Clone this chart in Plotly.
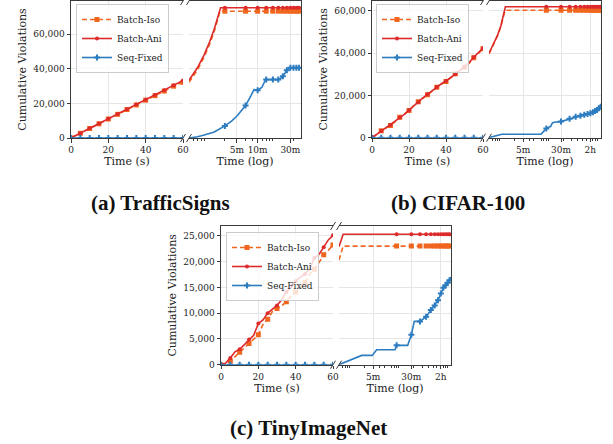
import math
import plotly.graph_objects as go

W, H = 613, 444

# ---------------- data ----------------
LIN_T = [0, 2.5, 5, 7.5, 10, 12.5, 15, 17.5, 20, 22.5, 25, 27.5, 30,
         32.5, 35, 37.5, 40, 42.5, 45, 47.5, 50, 52.5, 55, 57.5, 60]
LIN_SEQ = [0, 0, 0, 0, 0, 0, 0, 0, 0, 0, 0, 0, 0,
           0, 0, 0, 0, 0, 0, 0, 0, 0, 0, 0, 0]

# (a) TrafficSigns
A_LIN_ISO = [0, 1300, 2700, 4100, 5500, 6900, 8200, 9600, 11000, 12400, 13700, 15100, 16500,
             17800, 19100, 20500, 21900, 23200, 24500, 25900, 27200, 28600, 30000, 31300, 32200]
A_LIN_ANI = [0, 1400, 2800, 4200, 5600, 7000, 8400, 9700, 11100, 12500, 13900, 15300, 16700,
             18000, 19400, 20800, 22200, 23500, 24900, 26300, 27700, 29100, 30500, 31900, 33300]
A_MARK_T = [200, 400, 600, 800, 1000, 1200, 1400, 1600, 1800, 2000, 2200, 2400]
A_LOG_ISO_T = [60, 80, 100, 120, 140, 160, 170, 200, 400, 600, 800, 1000, 1200, 1400, 1600,
               1800, 2000, 2200, 2400, 2570]
A_LOG_ISO_V = [32200, 39600, 47000, 54400, 61800, 69200, 73400, 73400, 73400, 73400, 73400,
               73400, 73400, 73400, 73400, 73400, 73400, 73400, 73400, 73400]
A_LOG_ANI_T = [60, 80, 100, 120, 140, 160, 173, 200, 400, 600, 800, 1000, 1200, 1400, 1600,
               1800, 2000, 2200, 2400, 2570]
A_LOG_ANI_V = [33400, 40800, 48300, 55700, 63100, 70600, 75400, 75400, 75400, 75400, 75400,
               75400, 75400, 75400, 75400, 75400, 75400, 75400, 75400, 75400]
A_LOG_SEQ_T = [60, 80, 100, 140, 200, 250, 300, 350, 400, 480, 530, 600, 690, 780, 800, 1000,
               1200, 1300, 1400, 1500, 1600, 1700, 1800, 2000, 2200, 2400, 2570]
A_LOG_SEQ_V = [0, 700, 1700, 3500, 7000, 9800, 12700, 15700, 18800, 24500, 28000, 27700, 29200,
               33600, 33800, 33800, 33800, 34500, 35800, 37500, 39200, 40300, 40600, 40600,
               40600, 40600, 40600]
A_LOG_END = 2570
A_LOG_TICKS = [300, 600, 1800]
A_LOG_LABELS = ["5m", "10m", "30m"]
A_Y_TICKS = [0, 20000, 40000, 60000]
A_Y_MAX = 79300

# (b) CIFAR-100
B_LIN_ISO = [0, 1400, 3300, 4400, 5800, 7600, 9700, 11200, 12800, 15100, 17000, 18600, 20300,
             22100, 23800, 25200, 26600, 28300, 30200, 31600, 33300, 35200, 37800, 39800, 42000]
B_LIN_ANI = [0, 1500, 3200, 4500, 6000, 7800, 9500, 11000, 13000, 15000, 16800, 18800, 20500,
             22300, 24000, 25500, 26800, 28200, 30000, 31800, 33500, 35500, 38000, 40000, 42300]
B_MARK_T = [900, 1800, 2700, 3600, 4500, 5400, 6300, 7200, 8100, 9000, 9900, 10800, 11700]
B_LOG_ISO_T = [60, 75, 90, 105, 120, 128, 900, 1800, 2700, 3600, 4500, 5400, 6300, 7200, 8100,
               9000, 9900, 10800, 11700, 11900]
B_LOG_ISO_V = [39600, 44000, 48200, 52500, 58000, 60200, 60200, 60200, 60200, 60200, 60200,
               60200, 60200, 60200, 60200, 60200, 60200, 60200, 60200, 60200]
B_LOG_ANI_T = [60, 75, 90, 105, 120, 130, 900, 1800, 2700, 3600, 4500, 5400, 6300, 7200, 8100,
               9000, 9900, 10800, 11700, 11900]
B_LOG_ANI_V = [39900, 44300, 48500, 52800, 58500, 61900, 61900, 61900, 61900, 61900, 61900,
               61900, 61900, 61900, 61900, 61900, 61900, 61900, 61900, 61900]
B_LOG_SEQ_T = [60, 80, 110, 700, 760, 850, 900, 1000, 1100, 1200, 1300, 1800, 2700, 3600, 4500,
               5400, 6300, 7200, 8100, 9000, 9900, 10800, 11700, 11900]
B_LOG_SEQ_V = [0, 900, 1600, 1600, 2600, 3800, 4400, 5000, 5300, 7000, 7300, 7600, 9000, 9900,
               10400, 10900, 11200, 11500, 12000, 12600, 13100, 13900, 14600, 15000]
B_LOG_END = 11900
BC_LOG_TICKS = [300, 1800, 7200]
BC_LOG_LABELS = ["5m", "30m", "2h"]
B_Y_TICKS = [0, 20000, 40000, 60000]
B_Y_MAX = 64600

# (c) TinyImageNet
C_LIN_ISO = [0, 0, 700, 1550, 2400, 3300, 4100, 4900, 5800, 7800, 8800, 10300, 10900,
             11400, 12200, 13300, 14100, 15100, 15900, 17600, 18500, 19800, 21300, 22200, 23200]
C_LIN_ANI = [0, 300, 1300, 2500, 3000, 3900, 4900, 5700, 8000, 8700, 10000, 10700, 11500,
             12600, 14100, 15000, 16200, 17000, 17600, 18600, 20700, 21400, 22800, 24200, 25100]
C_MARK_T = [900, 1800, 2700, 3600, 4500, 5400, 6300, 7200, 8100, 9000, 9900, 10800]
C_LOG_ISO_T = [60, 73, 900, 1800, 2700, 3600, 4500, 5400, 6300, 7200, 8100, 9000, 9900, 10800,
               11600]
C_LOG_ISO_V = [20300, 23000, 23000, 23000, 23000, 23000, 23000, 23000, 23000, 23000, 23000,
               23000, 23000, 23000, 23000]
C_LOG_ANI_T = [60, 73, 900, 1800, 2700, 3600, 4500, 5400, 6300, 7200, 8100, 9000, 9900, 10800,
               11600]
C_LOG_ANI_V = [22900, 25300, 25300, 25300, 25300, 25300, 25300, 25300, 25300, 25300, 25300,
               25300, 25300, 25300, 25300]
C_LOG_SEQ_T = [60, 174, 287, 352, 833, 900, 1514, 1767, 1800, 2065, 2700, 3600, 4500, 5400,
               6300, 7200, 8100, 9000, 9900, 10800, 11600]
C_LOG_SEQ_V = [0, 1800, 1800, 2900, 2900, 3750, 3750, 5800, 5800, 8400, 8400, 9300, 10600,
               11500, 12500, 13800, 14900, 15400, 15900, 16400, 17000]
C_LOG_END = 11600
C_Y_TICKS = [0, 5000, 10000, 15000, 20000, 25000]
C_Y_MAX = 26900

LIN_TICKS = [0, 20, 40, 60]
LOG_MINOR = [70, 80, 90, 100, 200, 400, 500, 700, 800, 900, 1000, 2000, 3000, 4000, 5000,
             6000, 8000, 9000, 10000]
SERIES = ["Batch-Iso", "Batch-Ani", "Seq-Fixed"]
CAPTIONS = ["(a) TrafficSigns", "(b) CIFAR-100", "(c) TinyImageNet"]

# ---------------- styles / layout ----------------
COL = {"Batch-Iso": "#f0661f", "Batch-Ani": "#dd2a2a", "Seq-Fixed": "#2d7cc0"}
DASH = {"Batch-Iso": "5px,3px", "Batch-Ani": "solid", "Seq-Fixed": "solid"}
SYM = {"Batch-Iso": "square", "Batch-Ani": "circle", "Seq-Fixed": "cross"}
MSIZE = {"Batch-Iso": 5, "Batch-Ani": 4, "Seq-Fixed": 5}
SERIF = "DejaVu Serif"
AXC = "#3a3a3a"
GRID = "#e6e6e6"

# pixel boxes: lin x, log x, y(top,bottom), legend pos, caption centre
PANELS = [
    dict(lin=(71, 183), log=(189, 301), y=(1, 138), leg=(76, 4), cap=(160, 203)),
    dict(lin=(372, 483), log=(489, 601), y=(1, 137.7), leg=(376, 4), cap=(458, 203)),
    dict(lin=(221, 333), log=(339, 451), y=(226, 364.7), leg=(226, 232), cap=(308, 428)),
]
DATA = [
    dict(lin={"Batch-Iso": A_LIN_ISO, "Batch-Ani": A_LIN_ANI, "Seq-Fixed": LIN_SEQ},
         log={"Batch-Iso": (A_LOG_ISO_T, A_LOG_ISO_V), "Batch-Ani": (A_LOG_ANI_T, A_LOG_ANI_V),
              "Seq-Fixed": (A_LOG_SEQ_T, A_LOG_SEQ_V)},
         marks=A_MARK_T, end=A_LOG_END, lt=A_LOG_TICKS, ll=A_LOG_LABELS, yt=A_Y_TICKS, ymax=A_Y_MAX),
    dict(lin={"Batch-Iso": B_LIN_ISO, "Batch-Ani": B_LIN_ANI, "Seq-Fixed": LIN_SEQ},
         log={"Batch-Iso": (B_LOG_ISO_T, B_LOG_ISO_V), "Batch-Ani": (B_LOG_ANI_T, B_LOG_ANI_V),
              "Seq-Fixed": (B_LOG_SEQ_T, B_LOG_SEQ_V)},
         marks=B_MARK_T, end=B_LOG_END, lt=BC_LOG_TICKS, ll=BC_LOG_LABELS, yt=B_Y_TICKS, ymax=B_Y_MAX),
    dict(lin={"Batch-Iso": C_LIN_ISO, "Batch-Ani": C_LIN_ANI, "Seq-Fixed": LIN_SEQ},
         log={"Batch-Iso": (C_LOG_ISO_T, C_LOG_ISO_V), "Batch-Ani": (C_LOG_ANI_T, C_LOG_ANI_V),
              "Seq-Fixed": (C_LOG_SEQ_T, C_LOG_SEQ_V)},
         marks=C_MARK_T, end=C_LOG_END, lt=BC_LOG_TICKS, ll=BC_LOG_LABELS, yt=C_Y_TICKS, ymax=C_Y_MAX),
]


def fx(p):
    return p / W


def fy(p):
    return 1 - p / H


fig = go.Figure()
layout = dict(width=W, height=H, margin=dict(l=0, r=0, t=0, b=0, autoexpand=False),
              paper_bgcolor="white", plot_bgcolor="white", showlegend=True)
shapes, annotations = [], []
tickfont = dict(family=SERIF, size=9, color="#222")
titlefont = dict(family=SERIF, size=11, color="#222")

for i, (P, D) in enumerate(zip(PANELS, DATA)):
    n1, n2 = 2 * i + 1, 2 * i + 2
    xa1 = "xaxis" if n1 == 1 else f"xaxis{n1}"
    xa2, ya1, ya2 = f"xaxis{n2}", ("yaxis" if n1 == 1 else f"yaxis{n1}"), f"yaxis{n2}"
    xr1 = "x" if n1 == 1 else f"x{n1}"
    yr1 = "y" if n1 == 1 else f"y{n1}"
    xr2, yr2 = f"x{n2}", f"y{n2}"
    ydom = [fy(P["y"][1]), fy(P["y"][0])]
    legname = "legend" if i == 0 else f"legend{i + 1}"

    common_x = dict(showline=True, mirror=True, linecolor=AXC, linewidth=1, ticks="outside",
                    ticklen=3.5, tickcolor=AXC, tickfont=tickfont, showgrid=True, gridcolor=GRID,
                    gridwidth=0.8, zeroline=False, title_font=titlefont, title_standoff=2,
                    automargin=False)
    layout[xa1] = dict(common_x, domain=[fx(P["lin"][0]), fx(P["lin"][1])], anchor=yr1,
                       range=[0, 60], tickvals=LIN_TICKS, title_text="Time (s)")
    layout[xa2] = dict(common_x, domain=[fx(P["log"][0]), fx(P["log"][1])], anchor=yr2,
                       type="log", range=[math.log10(60), math.log10(D["end"])],
                       tickvals=D["lt"], ticktext=D["ll"], title_text="Time (log)",
                       minor=dict(tickmode="array", tickvals=LOG_MINOR, ticks="outside",
                                  ticklen=2, tickcolor=AXC, showgrid=False))
    layout[ya1] = dict(domain=ydom, anchor=xr1, range=[0, D["ymax"]], tickvals=D["yt"],
                       tickformat=",d", showline=True, linecolor=AXC, linewidth=1, ticks="outside",
                       ticklen=3.5, tickcolor=AXC, tickfont=tickfont, showgrid=True, gridcolor=GRID,
                       gridwidth=0.8, zeroline=False, title_text="Cumulative Violations",
                       title_font=titlefont, title_standoff=4, automargin=False)
    layout[ya2] = dict(domain=ydom, anchor=xr2, range=[0, D["ymax"]], tickvals=D["yt"],
                       side="right", showticklabels=False, ticks="", showline=True,
                       linecolor=AXC, linewidth=1, showgrid=True, gridcolor=GRID, gridwidth=0.8,
                       zeroline=False, automargin=False)
    layout[legname] = dict(x=fx(P["leg"][0]), y=fy(P["leg"][1]), xanchor="left", yanchor="top",
                           bgcolor="rgba(255,255,255,0.8)", bordercolor="#cccccc", borderwidth=1,
                           font=dict(family=SERIF, size=9, color="#222"), tracegroupgap=0,
                           itemwidth=30)

    for s in SERIES:
        line = dict(color=COL[s], width=1.6, dash=DASH[s])
        marker = dict(symbol=SYM[s], size=MSIZE[s], color=COL[s], line=dict(width=0))
        yl = D["lin"][s]
        fig.add_trace(go.Scatter(x=LIN_T, y=yl, mode="lines", line=line, xaxis=xr1, yaxis=yr1,
                                 showlegend=False, hoverinfo="skip"))
        mk = [(t, v) for t, v in zip(LIN_T, yl) if t % 5 == 0]
        fig.add_trace(go.Scatter(x=[m[0] for m in mk], y=[m[1] for m in mk], mode="markers",
                                 marker=marker, xaxis=xr1, yaxis=yr1, showlegend=False,
                                 hoverinfo="skip"))
        tt, vv = D["log"][s]
        fig.add_trace(go.Scatter(x=tt, y=vv, mode="lines", line=line, xaxis=xr2, yaxis=yr2,
                                 showlegend=False, hoverinfo="skip"))
        mk = [(t, v) for t, v in zip(tt, vv) if t in D["marks"]]
        fig.add_trace(go.Scatter(x=[m[0] for m in mk], y=[m[1] for m in mk], mode="markers",
                                 marker=marker, xaxis=xr2, yaxis=yr2, showlegend=False,
                                 hoverinfo="skip"))
        fig.add_trace(go.Scatter(x=[None], y=[None], mode="lines+markers", name=s, line=line,
                                 marker=marker, xaxis=xr1, yaxis=yr1, legend=legname))

    for xe in (P["lin"][1], P["log"][0]):
        for ye in P["y"]:
            shapes.append(dict(type="line", xref="paper", yref="paper",
                               x0=fx(xe - 2.5), y0=fy(ye + 4), x1=fx(xe + 2.5), y1=fy(ye - 4),
                               line=dict(color=AXC, width=1)))

    annotations.append(dict(text=CAPTIONS[i], xref="paper", yref="paper",
                            x=fx(P["cap"][0]), y=fy(P["cap"][1]), xanchor="center",
                            yanchor="middle", showarrow=False,
                            font=dict(family="Liberation Serif", size=21, color="#111",
                                      weight="bold")))

layout["shapes"] = shapes
layout["annotations"] = annotations
fig.update_layout(**layout)
fig.write_html("out.html", config={"displayModeBar": False},
               post_script="document.body.style.margin='0px';"
                           "document.body.style.overflow='hidden';")
